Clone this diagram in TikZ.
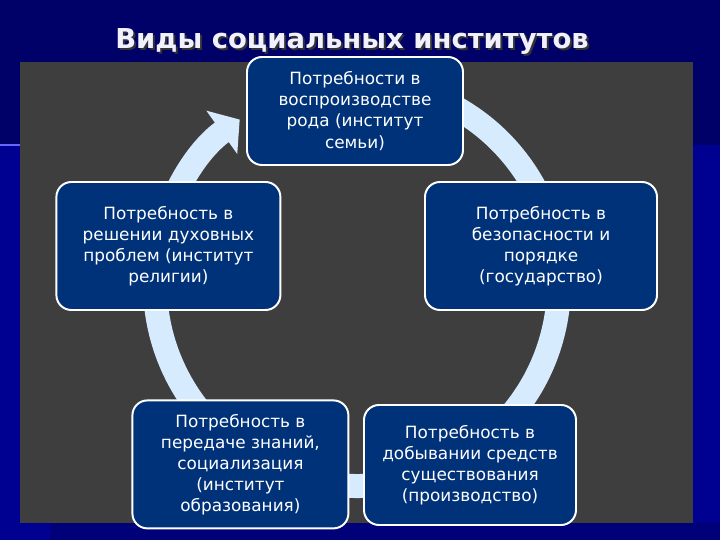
\documentclass[tikz,border=0pt]{standalone}
\usepackage{fontspec}
\setmainfont{DejaVu Sans}
\usepackage{tikz}
\usetikzlibrary{arrows.meta}

\definecolor{bgdark}{RGB}{0,0,105}
\definecolor{bglight}{RGB}{0,0,145}
\definecolor{bgstrip}{RGB}{0,0,120}
\definecolor{panel}{RGB}{62,62,62}
\definecolor{ringblue}{RGB}{215,235,255}
\definecolor{boxblue}{RGB}{0,50,122}

\begin{document}
\begin{tikzpicture}[
	need/.style={draw=white, line width=1.4pt, fill=boxblue, rounded corners=0.375cm,
		text=white, align=center, font=\fontsize{12}{15}\selectfont},
	ring/.style={draw=ringblue, line width=0.6cm, -{Triangle[width=1.3cm, length=0.55cm]}}
]
\useasboundingbox (0,0) rectangle (18,13.5);
\fill[bgdark] (0,0) rectangle (18,13.5);
\fill[bglight] (0,0) rectangle (18,9.875);
\fill[bgstrip] (1.25,0) rectangle (18,0.425);
\draw[blue!60!white, line width=0.8pt] (0,9.875) -- (0.5,9.875);
\fill[panel] (0.5,0.425) rectangle (17.325,11.95);

\coordinate (c) at (8.925,6.4);
\draw[ring] (c) ++(80:5.05) arc[start angle=80, end angle=-234.5, radius=5.05cm];

\node[need, minimum width=5.4cm, minimum height=2.7cm] (family) at (8.875,10.725)
	{Потребности в\\воспроизводстве\\рода (институт\\семьи)};
\node[need, minimum width=5.8cm, minimum height=3.2cm] (state) at (13.525,7.35)
	{Потребность в\\безопасности и\\порядке\\(государство)};
\node[need, minimum width=5.3cm, minimum height=3.0cm] (production) at (11.75,1.875)
	{Потребность в\\добывании средств\\существования\\(производство)};
\node[need, minimum width=5.4cm, minimum height=3.2cm] (education) at (6.01,1.89)
	{Потребность в\\передаче знаний,\\социализация\\(институт\\образования)};
\node[need, minimum width=5.6cm, minimum height=3.2cm] (religion) at (4.21,7.35)
	{Потребность в\\решении духовных\\проблем (институт\\религии)};

\node[text=black!80, font=\fontsize{19.5}{24}\bfseries] (shadow) at (8.85,12.425) {Виды социальных институтов};
\node[text=white!94!blue, font=\fontsize{19.5}{24}\bfseries] (title) at (8.8,12.475) {Виды социальных институтов};
\end{tikzpicture}
\end{document}
